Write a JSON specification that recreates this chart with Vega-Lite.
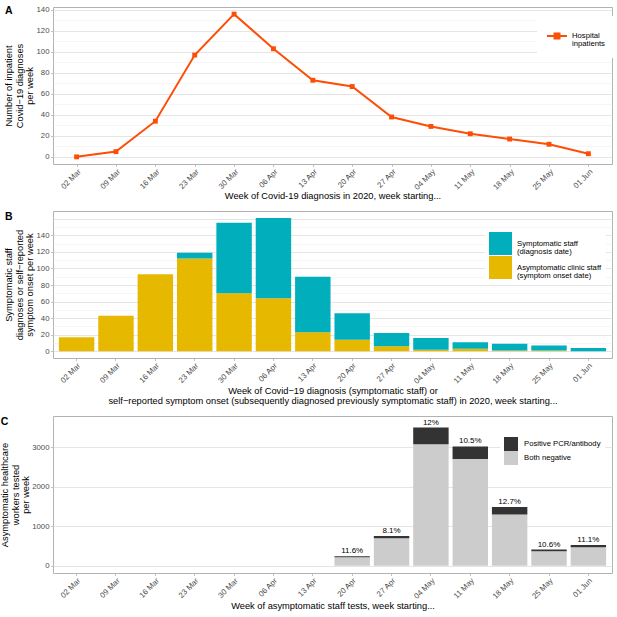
{
  "$schema": "https://vega.github.io/schema/vega-lite/v6.json",
  "padding": {"left": 0, "top": 5, "right": 5, "bottom": 3},
  "spacing": 9,
  "config": {
    "font": "Liberation Sans",
    "view": {"stroke": "#B3B3B3", "strokeWidth": 1},
    "axis": {
      "domain": false,
      "gridColor": "#DEDEDE",
      "gridWidth": 0.8,
      "tickColor": "#B3B3B3",
      "tickSize": 2.5,
      "tickWidth": 0.8,
      "labelColor": "#4D4D4D",
      "labelFontSize": 7.8,
      "labelPadding": 1.5,
      "titleFontSize": 9.3,
      "titleFontWeight": "normal",
      "titleColor": "#000000",
      "titleLineHeight": 10.5
    },
    "axisX": {"labelAngle": -45, "labelAlign": "right", "labelBaseline": "top", "labelPadding": 1, "titlePadding": 0},
    "axisY": {"titlePadding": 1},
    "legend": {"labelFontSize": 7.7, "labelColor": "#000000", "labelLimit": 200, "fillColor": "white"},
    "title": {"fontSize": 10.5, "fontWeight": "bold", "anchor": "start", "frame": "bounds", "offset": -11, "color": "#000000"}
  },
  "resolve": {"scale": {"x": "independent", "y": "independent", "color": "independent"}},
  "datasets": {
    "inpatients": [
      {"week": "02 Mar", "series": "Hospital inpatients", "n": 0},
      {"week": "09 Mar", "series": "Hospital inpatients", "n": 5},
      {"week": "16 Mar", "series": "Hospital inpatients", "n": 34},
      {"week": "23 Mar", "series": "Hospital inpatients", "n": 97},
      {"week": "30 Mar", "series": "Hospital inpatients", "n": 136},
      {"week": "06 Apr", "series": "Hospital inpatients", "n": 103},
      {"week": "13 Apr", "series": "Hospital inpatients", "n": 73},
      {"week": "20 Apr", "series": "Hospital inpatients", "n": 67},
      {"week": "27 Apr", "series": "Hospital inpatients", "n": 38},
      {"week": "04 May", "series": "Hospital inpatients", "n": 29},
      {"week": "11 May", "series": "Hospital inpatients", "n": 22},
      {"week": "18 May", "series": "Hospital inpatients", "n": 17},
      {"week": "25 May", "series": "Hospital inpatients", "n": 12},
      {"week": "01 Jun", "series": "Hospital inpatients", "n": 3}
    ],
    "staff": [
      {"week": "02 Mar", "series": "Asymptomatic clinic staff (symptom onset date)", "n": 17},
      {"week": "09 Mar", "series": "Asymptomatic clinic staff (symptom onset date)", "n": 43},
      {"week": "16 Mar", "series": "Asymptomatic clinic staff (symptom onset date)", "n": 93},
      {"week": "23 Mar", "series": "Asymptomatic clinic staff (symptom onset date)", "n": 112},
      {"week": "30 Mar", "series": "Asymptomatic clinic staff (symptom onset date)", "n": 70},
      {"week": "06 Apr", "series": "Asymptomatic clinic staff (symptom onset date)", "n": 64},
      {"week": "13 Apr", "series": "Asymptomatic clinic staff (symptom onset date)", "n": 23},
      {"week": "20 Apr", "series": "Asymptomatic clinic staff (symptom onset date)", "n": 14},
      {"week": "27 Apr", "series": "Asymptomatic clinic staff (symptom onset date)", "n": 6},
      {"week": "04 May", "series": "Asymptomatic clinic staff (symptom onset date)", "n": 2},
      {"week": "11 May", "series": "Asymptomatic clinic staff (symptom onset date)", "n": 3},
      {"week": "18 May", "series": "Asymptomatic clinic staff (symptom onset date)", "n": 1},
      {"week": "25 May", "series": "Asymptomatic clinic staff (symptom onset date)", "n": 1},
      {"week": "01 Jun", "series": "Asymptomatic clinic staff (symptom onset date)", "n": 0},
      {"week": "02 Mar", "series": "Symptomatic staff (diagnosis date)", "n": 0},
      {"week": "09 Mar", "series": "Symptomatic staff (diagnosis date)", "n": 0},
      {"week": "16 Mar", "series": "Symptomatic staff (diagnosis date)", "n": 0},
      {"week": "23 Mar", "series": "Symptomatic staff (diagnosis date)", "n": 7},
      {"week": "30 Mar", "series": "Symptomatic staff (diagnosis date)", "n": 85},
      {"week": "06 Apr", "series": "Symptomatic staff (diagnosis date)", "n": 97},
      {"week": "13 Apr", "series": "Symptomatic staff (diagnosis date)", "n": 67},
      {"week": "20 Apr", "series": "Symptomatic staff (diagnosis date)", "n": 32},
      {"week": "27 Apr", "series": "Symptomatic staff (diagnosis date)", "n": 16},
      {"week": "04 May", "series": "Symptomatic staff (diagnosis date)", "n": 14},
      {"week": "11 May", "series": "Symptomatic staff (diagnosis date)", "n": 8},
      {"week": "18 May", "series": "Symptomatic staff (diagnosis date)", "n": 8},
      {"week": "25 May", "series": "Symptomatic staff (diagnosis date)", "n": 6},
      {"week": "01 Jun", "series": "Symptomatic staff (diagnosis date)", "n": 4}
    ],
    "tests": [
      {"week": "20 Apr", "series": "Both negative", "n": 215},
      {"week": "27 Apr", "series": "Both negative", "n": 698},
      {"week": "04 May", "series": "Both negative", "n": 3085},
      {"week": "11 May", "series": "Both negative", "n": 2708},
      {"week": "18 May", "series": "Both negative", "n": 1303},
      {"week": "25 May", "series": "Both negative", "n": 368},
      {"week": "01 Jun", "series": "Both negative", "n": 472},
      {"week": "20 Apr", "series": "Positive PCR/antibody", "n": 28, "pct": "11.6%"},
      {"week": "27 Apr", "series": "Positive PCR/antibody", "n": 61, "pct": "8.1%"},
      {"week": "04 May", "series": "Positive PCR/antibody", "n": 421, "pct": "12%"},
      {"week": "11 May", "series": "Positive PCR/antibody", "n": 318, "pct": "10.5%"},
      {"week": "18 May", "series": "Positive PCR/antibody", "n": 189, "pct": "12.7%"},
      {"week": "25 May", "series": "Positive PCR/antibody", "n": 44, "pct": "10.6%"},
      {"week": "01 Jun", "series": "Positive PCR/antibody", "n": 59, "pct": "11.1%"}
    ]
  },
  "vconcat": [
    {
      "title": "A",
      "width": 559,
      "height": 157,
      "data": {"name": "inpatients"},
      "encoding": {
        "x": {
          "field": "week", "type": "nominal", "sort": null,
          "scale": {"type": "point", "padding": 0.6, "domain": ["02 Mar", "09 Mar", "16 Mar", "23 Mar", "30 Mar", "06 Apr", "13 Apr", "20 Apr", "27 Apr", "04 May", "11 May", "18 May", "25 May", "01 Jun"]},
          "axis": {"title": "Week of Covid-19 diagnosis in 2020, week starting..."}
        },
        "y": {
          "field": "n", "type": "quantitative",
          "scale": {"domain": [-6.8, 142.8], "nice": false, "zero": false},
          "axis": {
            "title": ["Number of inpatient", "Covid−19 diagnoses", "per week"],
            "values": [0, 10, 20, 30, 40, 50, 60, 70, 80, 90, 100, 110, 120, 130, 140],
            "labelExpr": "datum.value % 20 == 0 ? datum.label : ''",
            "tickColor": {"condition": {"test": "datum.value % 20 == 0", "value": "#B3B3B3"}, "value": "transparent"},
            "gridColor": {"condition": {"test": "datum.value % 20 == 0", "value": "#DEDEDE"}, "value": "#EBEBEB"},
            "gridWidth": {"condition": {"test": "datum.value % 20 == 0", "value": 0.8}, "value": 0.5}
          }
        },
        "color": {
          "field": "series", "type": "nominal",
          "scale": {"range": ["#FC4E07"]},
          "legend": {
            "title": null, "orient": "none", "legendX": 484, "legendY": 9, "padding": 9,
            "symbolType": "M-1,0H1M-0.25,-0.25H0.25V0.25H-0.25Z",
            "symbolSize": 400, "symbolStrokeWidth": 2, "symbolStrokeColor": "#FC4E07", "symbolFillColor": "#FC4E07",
            "labelOffset": 4,
            "labelExpr": "split(datum.label, ' ')",
            "encode": {"labels": {"update": {"lineHeight": {"value": 8.4}, "fill": {"value": "#000000"}}}}
          }
        }
      },
      "layer": [
        {"mark": {"type": "line", "strokeWidth": 2}},
        {"mark": {"type": "point", "shape": "square", "filled": true, "opacity": 1, "size": 24}}
      ]
    },
    {
      "title": "B",
      "width": 559,
      "height": 147,
      "data": {"name": "staff"},
      "mark": {"type": "bar"},
      "encoding": {
        "x": {
          "field": "week", "type": "nominal", "sort": null,
          "scale": {"type": "band", "paddingInner": 0.1, "paddingOuter": 0.15, "domain": ["02 Mar", "09 Mar", "16 Mar", "23 Mar", "30 Mar", "06 Apr", "13 Apr", "20 Apr", "27 Apr", "04 May", "11 May", "18 May", "25 May", "01 Jun"]},
          "axis": {"bandPosition": 0.5, "title": ["Week of Covid−19 diagnosis (symptomatic staff) or", "self−reported symptom onset (subsequently diagnosed previously symptomatic staff) in 2020, week starting..."], "titleLineHeight": 10, "titlePadding": 1}
        },
        "y": {
          "field": "n", "type": "quantitative", "stack": "zero",
          "scale": {"domain": [-8.05, 169.3], "nice": false, "zero": false},
          "axis": {
            "title": ["Symptomatic staff", "diagnoses or self−reported", "symptom onset per week"],
            "values": [0, 10, 20, 30, 40, 50, 60, 70, 80, 90, 100, 110, 120, 130, 140, 150, 160],
            "labelExpr": "datum.value % 20 == 0 && datum.value <= 140 ? datum.label : ''",
            "tickColor": {"condition": {"test": "datum.value % 20 == 0 && datum.value <= 140", "value": "#B3B3B3"}, "value": "transparent"},
            "gridColor": {"condition": {"test": "datum.value % 20 == 0", "value": "#DEDEDE"}, "value": "#EBEBEB"},
            "gridWidth": {"condition": {"test": "datum.value % 20 == 0", "value": 0.8}, "value": 0.5}
          }
        },
        "order": {"field": "series", "type": "nominal", "sort": "ascending"},
        "color": {
          "field": "series", "type": "nominal",
          "sort": ["Symptomatic staff (diagnosis date)", "Asymptomatic clinic staff (symptom onset date)"],
          "scale": {"range": ["#00AFBB", "#E7B800"]},
          "legend": {
            "title": null, "orient": "none", "legendX": 432, "legendY": 17, "padding": 4,
            "symbolType": "square", "symbolSize": 529, "symbolStrokeWidth": 0, "symbolOpacity": 1,
            "rowPadding": 0, "labelOffset": 5,
            "labelExpr": "split(replace(datum.label, ' (', '|('), '|')",
            "encode": {"labels": {"update": {"lineHeight": {"value": 8.5}, "fill": {"value": "#000000"}}}}
          }
        }
      }
    },
    {
      "title": "C",
      "width": 559,
      "height": 157,
      "data": {"name": "tests"},
      "transform": [
        {"joinaggregate": [{"op": "sum", "field": "n", "as": "total"}], "groupby": ["week"]}
      ],
      "encoding": {
        "x": {
          "field": "week", "type": "nominal", "sort": null,
          "scale": {"type": "band", "paddingInner": 0.1, "paddingOuter": 0.15, "domain": ["02 Mar", "09 Mar", "16 Mar", "23 Mar", "30 Mar", "06 Apr", "13 Apr", "20 Apr", "27 Apr", "04 May", "11 May", "18 May", "25 May", "01 Jun"]},
          "axis": {"bandPosition": 0.5, "title": "Week of asymptomatic staff tests, week starting...", "titlePadding": 1}
        }
      },
      "layer": [
        {
          "mark": {"type": "bar"},
          "encoding": {
            "y": {
              "field": "n", "type": "quantitative", "stack": "zero",
              "scale": {"domain": [-181, 3798], "nice": false, "zero": false},
              "axis": {
                "title": ["Asymptomatic healthcare", "workers tested", "per week"],
                "values": [0, 500, 1000, 1500, 2000, 2500, 3000, 3500],
                "labelExpr": "datum.value % 1000 == 0 ? datum.label : ''",
                "format": "d",
                "tickColor": {"condition": {"test": "datum.value % 1000 == 0", "value": "#B3B3B3"}, "value": "transparent"},
                "gridColor": {"condition": {"test": "datum.value % 1000 == 0", "value": "#DEDEDE"}, "value": "#EBEBEB"},
                "gridWidth": {"condition": {"test": "datum.value % 1000 == 0", "value": 0.8}, "value": 0.5}
              }
            },
            "order": {"field": "series", "type": "nominal", "sort": "ascending"},
            "color": {
              "field": "series", "type": "nominal",
              "sort": ["Positive PCR/antibody", "Both negative"],
              "scale": {"range": ["#333333", "#CCCCCC"]},
              "legend": {
                "title": null, "orient": "none", "legendX": 447, "legendY": 17, "padding": 4,
                "symbolType": "square", "symbolSize": 196, "symbolStrokeWidth": 0, "symbolOpacity": 1,
                "rowPadding": 0, "labelOffset": 6
              }
            }
          }
        },
        {
          "transform": [{"filter": "isValid(datum.pct)"}],
          "mark": {"type": "text", "baseline": "bottom", "dy": -1, "fontSize": 8, "color": "#000000"},
          "encoding": {
            "y": {"field": "total", "type": "quantitative"},
            "text": {"field": "pct"}
          }
        }
      ]
    }
  ]
}
